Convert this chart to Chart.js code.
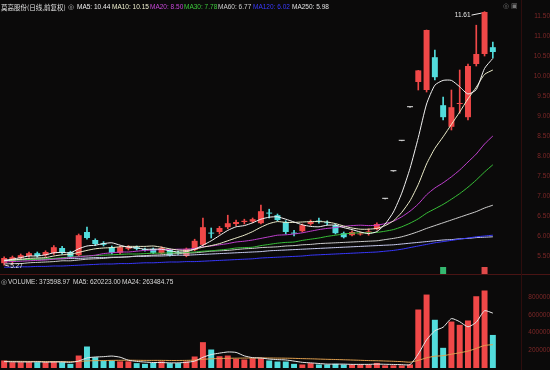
<!DOCTYPE html>
<html>
<head>
<meta charset="utf-8">
<script src="https://cdn.jsdelivr.net/npm/chart.js@4.4.0/dist/chart.umd.min.js"></script>
<style>
  body { margin: 0; background: #0b0a0a; width: 550px; height: 370px; overflow: hidden; position: relative; font-family: "Liberation Sans", Arial, sans-serif; }
  canvas { position: absolute; left: 0; }
  #price { top: 0; }
  #vol { top: 276px; }
  .lg { position: absolute; font-size: 6.5px; line-height: 8px; white-space: nowrap; color: #d8d8d8; }
  .cjk { font-family: "Noto Sans CJK SC", sans-serif; }
  .line { position: absolute; background: #4a1414; }
</style>
</head>
<body>
<canvas id="price" width="550" height="275"></canvas>
<canvas id="vol" width="550" height="94"></canvas>
<div class="line" style="left:0;top:274px;width:550px;height:1px"></div>
<div class="line" style="left:521px;top:0;width:1px;height:370px;background:#2e0d0d"></div>

<div class="lg cjk" style="left:1px;top:3px;color:#e0e0e0">莫高股份(日线,前复权)</div>
<div class="lg" style="left:68px;top:3px;color:#bbb">◎</div>
<div class="lg" style="left:77px;top:3px;color:#f0f0f0">MA5: 10.44</div>
<div class="lg" style="left:112px;top:3px;color:#f0f0d0">MA10: 10.15</div>
<div class="lg" style="left:150px;top:3px;color:#c848d8">MA20: 8.50</div>
<div class="lg" style="left:184px;top:3px;color:#3cc83c">MA30: 7.78</div>
<div class="lg" style="left:218px;top:3px;color:#d0d0d0">MA60: 6.77</div>
<div class="lg" style="left:253px;top:3px;color:#3a3aff">MA120: 6.02</div>
<div class="lg" style="left:292px;top:3px;color:#e0e0e0">MA250: 5.98</div>
<div class="lg" style="left:503px;top:2px;color:#777">◎ ▣</div>

<div class="lg" style="left:1px;top:278px;color:#bbb">◎</div>
<div class="lg" style="left:8px;top:278px">VOLUME: 373598.97</div>
<div class="lg" style="left:73px;top:278px">MA5: 620223.00</div>
<div class="lg" style="left:122px;top:278px">MA24: 263484.75</div>

<script>
// daily candles, oldest first
const days = Array.from({ length: 60 }, (_, i) => i)

const opens = [5.32, 5.36, 5.45, 5.50, 5.57, 5.52, 5.57, 5.70, 5.60, 5.52,
  6.10, 5.90, 5.82, 5.72, 5.58, 5.68, 5.72, 5.67, 5.68, 5.57,
  5.65, 5.59, 5.50, 5.65, 5.78, 6.08, 6.10, 6.22, 6.30, 6.35,
  6.36, 6.32, 6.58, 6.52, 6.35, 6.08, 6.12, 6.30, 6.38, 6.34,
  6.27, 6.07, 6.02, 6.04, 6.09, 6.17, 6.93, 7.62, 8.38, 9.22,
  9.85, 9.65, 10.47, 9.27, 8.73, 9.30, 8.97, 10.30, 10.55, 10.72]
const closes = [5.45, 5.47, 5.52, 5.57, 5.50, 5.60, 5.72, 5.58, 5.48, 6.02,
  5.95, 5.80, 5.78, 5.58, 5.72, 5.72, 5.68, 5.65, 5.58, 5.70,
  5.52, 5.57, 5.68, 5.88, 6.22, 6.06, 6.20, 6.32, 6.35, 6.38,
  6.42, 6.62, 6.56, 6.40, 6.10, 6.06, 6.27, 6.35, 6.36, 6.32,
  6.07, 5.97, 6.10, 6.06, 6.11, 6.30, 6.93, 7.62, 8.38, 9.22,
  10.14, 11.15, 9.97, 8.97, 9.22, 9.32, 10.25, 10.55, 11.60, 10.60]
const highs = [5.48, 5.50, 5.55, 5.60, 5.60, 5.63, 5.76, 5.74, 5.62, 6.05,
  6.22, 5.93, 5.86, 5.75, 5.75, 5.76, 5.75, 5.70, 5.70, 5.73,
  5.67, 5.62, 5.70, 5.92, 6.45, 6.20, 6.24, 6.52, 6.40, 6.42,
  6.45, 6.77, 6.67, 6.55, 6.38, 6.14, 6.30, 6.40, 6.45, 6.38,
  6.30, 6.10, 6.13, 6.10, 6.18, 6.33, 6.93, 7.62, 8.38, 9.22,
  10.14, 11.15, 10.65, 9.47, 9.65, 10.15, 10.30, 11.27, 11.61, 10.85]
const lows = [5.27, 5.30, 5.42, 5.47, 5.47, 5.49, 5.54, 5.55, 5.45, 5.50,
  5.92, 5.76, 5.75, 5.55, 5.55, 5.65, 5.65, 5.62, 5.56, 5.55,
  5.50, 5.54, 5.48, 5.63, 5.76, 5.95, 6.05, 6.18, 6.26, 6.30,
  6.33, 6.30, 6.45, 6.38, 6.05, 6.00, 6.10, 6.27, 6.32, 6.28,
  6.05, 5.95, 6.00, 6.02, 6.02, 6.15, 6.93, 7.62, 8.38, 9.22,
  9.65, 9.60, 9.90, 8.90, 8.65, 9.07, 8.90, 10.25, 10.50, 10.45]

// moving averages as shown on the chart
const ma5 = [5.38, 5.42, 5.46, 5.50, 5.50, 5.53, 5.58, 5.59, 5.58, 5.68,
  5.75, 5.77, 5.81, 5.83, 5.77, 5.72, 5.70, 5.67, 5.67, 5.67,
  5.63, 5.60, 5.61, 5.67, 5.77, 5.88, 6.01, 6.14, 6.23, 6.26,
  6.33, 6.42, 6.47, 6.48, 6.42, 6.35, 6.28, 6.24, 6.23, 6.27,
  6.27, 6.21, 6.16, 6.10, 6.06, 6.11, 6.30, 6.60, 7.07, 7.69,
  8.46, 9.30, 9.77, 9.89, 9.89, 9.73, 9.55, 9.66, 10.19, 10.44]
const ma10 = [5.38, 5.40, 5.42, 5.44, 5.45, 5.46, 5.50, 5.53, 5.54, 5.59,
  5.64, 5.68, 5.70, 5.71, 5.73, 5.74, 5.74, 5.74, 5.75, 5.72,
  5.68, 5.65, 5.64, 5.67, 5.72, 5.76, 5.81, 5.88, 5.95, 6.02,
  6.11, 6.22, 6.31, 6.36, 6.34, 6.34, 6.35, 6.36, 6.36, 6.35,
  6.31, 6.25, 6.20, 6.17, 6.17, 6.19, 6.26, 6.38, 6.59, 6.88,
  7.29, 7.80, 8.19, 8.48, 8.79, 9.10, 9.43, 9.72, 10.04, 10.15]
const ma20 = [5.35, 5.36, 5.37, 5.38, 5.39, 5.40, 5.42, 5.44, 5.46, 5.48,
  5.50, 5.52, 5.56, 5.58, 5.60, 5.60, 5.62, 5.64, 5.65, 5.66,
  5.66, 5.67, 5.67, 5.69, 5.73, 5.75, 5.78, 5.81, 5.85, 5.87,
  5.90, 5.94, 5.98, 6.02, 6.03, 6.05, 6.08, 6.12, 6.16, 6.19,
  6.21, 6.24, 6.26, 6.27, 6.26, 6.27, 6.31, 6.37, 6.48, 6.62,
  6.80, 7.03, 7.20, 7.33, 7.48, 7.65, 7.85, 8.05, 8.30, 8.50]
const ma30 = [5.38, 5.39, 5.40, 5.41, 5.42, 5.43, 5.44, 5.46, 5.47, 5.49,
  5.50, 5.51, 5.52, 5.53, 5.54, 5.55, 5.55, 5.56, 5.57, 5.57,
  5.58, 5.58, 5.59, 5.60, 5.62, 5.63, 5.65, 5.67, 5.70, 5.71,
  5.72, 5.76, 5.79, 5.82, 5.84, 5.85, 5.89, 5.92, 5.95, 5.99,
  6.02, 6.05, 6.07, 6.08, 6.08, 6.09, 6.12, 6.16, 6.23, 6.32,
  6.43, 6.57, 6.68, 6.79, 6.92, 7.06, 7.22, 7.40, 7.60, 7.78]
const ma60 = [5.30, 5.31, 5.31, 5.33, 5.34, 5.35, 5.36, 5.38, 5.38, 5.40,
  5.42, 5.43, 5.44, 5.46, 5.47, 5.48, 5.50, 5.51, 5.52, 5.53,
  5.55, 5.56, 5.57, 5.58, 5.60, 5.62, 5.63, 5.64, 5.66, 5.68,
  5.69, 5.71, 5.72, 5.73, 5.75, 5.76, 5.78, 5.79, 5.81, 5.82,
  5.83, 5.84, 5.85, 5.86, 5.87, 5.88, 5.91, 5.94, 5.98, 6.04,
  6.11, 6.19, 6.26, 6.33, 6.40, 6.47, 6.54, 6.61, 6.70, 6.77]
const ma120 = [5.22, 5.22, 5.23, 5.23, 5.24, 5.24, 5.25, 5.25, 5.26, 5.27,
  5.28, 5.29, 5.30, 5.30, 5.31, 5.31, 5.32, 5.33, 5.33, 5.34,
  5.35, 5.35, 5.36, 5.36, 5.37, 5.38, 5.39, 5.40, 5.41, 5.42,
  5.43, 5.45, 5.46, 5.47, 5.48, 5.49, 5.50, 5.52, 5.53, 5.54,
  5.55, 5.56, 5.57, 5.58, 5.59, 5.60, 5.62, 5.64, 5.67, 5.71,
  5.75, 5.79, 5.83, 5.86, 5.89, 5.92, 5.95, 5.98, 6.00, 6.02]
const ma250 = [5.40, 5.40, 5.41, 5.41, 5.42, 5.42, 5.43, 5.43, 5.44, 5.44,
  5.45, 5.46, 5.46, 5.47, 5.47, 5.48, 5.49, 5.49, 5.50, 5.50,
  5.51, 5.52, 5.52, 5.53, 5.54, 5.55, 5.56, 5.57, 5.58, 5.59,
  5.60, 5.61, 5.63, 5.64, 5.65, 5.66, 5.67, 5.68, 5.69, 5.70,
  5.71, 5.72, 5.73, 5.74, 5.75, 5.76, 5.77, 5.78, 5.80, 5.82,
  5.84, 5.86, 5.88, 5.90, 5.91, 5.93, 5.94, 5.96, 5.97, 5.98]

const volumes = [85000, 66000, 66000, 66000, 66000, 66000, 75000, 66000, 47000, 141000,
  243000, 122000, 85000, 85000, 75000, 75000, 55000, 47000, 58000, 75000,
  55000, 55000, 75000, 130000, 292000, 209000, 133000, 141000, 104000, 96000,
  111000, 111000, 85000, 73000, 73000, 47000, 40000, 55000, 40000, 40000,
  47000, 40000, 40000, 40000, 40000, 58000, 30000, 30000, 30000, 40000,
  661000, 830000, 545000, 228000, 525000, 488000, 537000, 811000, 876000, 373598.97]
const volMa5 = [72000, 70000, 69000, 68000, 70000, 66000, 68000, 68000, 64000, 79000,
  114000, 124000, 128000, 135000, 122000, 88000, 75000, 67000, 62000, 62000,
  58000, 58000, 64000, 78000, 121000, 152000, 168000, 181000, 176000, 137000,
  117000, 113000, 101000, 95000, 91000, 78000, 64000, 58000, 51000, 44000,
  44000, 44000, 41000, 41000, 41000, 44000, 42000, 40000, 38000, 38000,
  158000, 318000, 421000, 461000, 558000, 523000, 465000, 518000, 647000, 620223]
const volMa24 = [76000, 75000, 75000, 74000, 74000, 73000, 73000, 72000, 71000, 74000,
  80000, 83000, 84000, 86000, 87000, 88000, 87000, 86000, 86000, 86000,
  85000, 85000, 86000, 89000, 98000, 104000, 107000, 110000, 111000, 112000,
  113000, 114000, 113000, 112000, 111000, 109000, 106000, 104000, 101000, 98000,
  96000, 93000, 90000, 87000, 84000, 82000, 79000, 76000, 72000, 66000,
  86000, 115000, 133000, 139000, 156000, 172000, 191000, 221000, 255000, 263485]

const priceTicks = [5.5, 6.0, 6.5, 7.0, 7.5, 8.0, 8.5, 9.0, 9.5, 10.0, 10.5, 11.0, 11.5]
const volTicks = [200000, 400000, 600000, 800000]

// small event flags under the candles
const eventDays = [53, 58]
const eventColors = ['#35b870', '#e04a4a']

const RED = '#f04848'
const CYAN = '#52dcdc'
const FLAT = '#e6e6e6'

const candleColor = days.map(i => closes[i] > opens[i] ? RED : closes[i] < opens[i] ? CYAN : FLAT)
const volColor = days.map(i => closes[i] >= opens[i] ? RED : CYAN)

const axisFont = { size: 6.5, family: 'Liberation Sans' }

function maLine(data, color) {
  return { type: 'line', data, borderColor: color, borderWidth: 1, pointRadius: 0, tension: 0.2, fill: false }
}

// right-hand axis: fixed width, no extra room for half labels
function rightAxis(min, max, ticks, fmt) {
  return {
    position: 'right',
    min, max,
    grid: { display: false },
    border: { display: false },
    afterFit: s => { s.width = 29; s.paddingTop = 0; s.paddingBottom = 0 },
    afterBuildTicks: s => { s.ticks = ticks.map(v => ({ value: v })) },
    ticks: { color: '#7e2828', font: axisFont, padding: 1, crossAlign: 'far', callback: fmt }
  }
}

const dayAxis = { type: 'linear', min: -0.5, max: 62.4, offset: false, display: false }

// labels for the highest / lowest prices and the flags
const markPlugin = {
  id: 'marks',
  afterDatasetsDraw(chart) {
    const { ctx, scales: { x, y } } = chart
    ctx.save()
    ctx.font = '6.5px "Liberation Sans"'
    ctx.fillStyle = '#e8e8e8'
    ctx.strokeStyle = '#e8e8e8'
    ctx.lineWidth = 1

    const hiIdx = highs.indexOf(Math.max(...highs))
    const hx = x.getPixelForValue(hiIdx), hy = y.getPixelForValue(highs[hiIdx])
    ctx.beginPath()
    ctx.moveTo(hx - 13, hy + 3.5)
    ctx.lineTo(hx - 3, hy + 1.5)
    ctx.stroke()
    ctx.textAlign = 'right'
    ctx.textBaseline = 'middle'
    ctx.fillText(highs[hiIdx].toFixed(2), hx - 14, hy + 4)

    const loIdx = lows.indexOf(Math.min(...lows))
    const lx = x.getPixelForValue(loIdx), ly = y.getPixelForValue(lows[loIdx])
    ctx.beginPath()
    ctx.moveTo(lx + 1, ly)
    ctx.lineTo(lx + 5, ly + 1)
    ctx.stroke()
    ctx.textAlign = 'left'
    ctx.fillText(lows[loIdx].toFixed(2), lx + 6, ly + 1)

    eventDays.forEach((d, k) => {
      const ex = x.getPixelForValue(d)
      ctx.fillStyle = eventColors[k]
      ctx.fillRect(ex - 3, 267, 6, 7)
    })
    ctx.restore()
  }
}

new Chart(document.getElementById('price'), {
  type: 'bar',
  data: {
    labels: days,
    datasets: [
      maLine(ma5, '#f2f2f2'),
      maLine(ma10, '#eeeecc'),
      maLine(ma20, '#c040d0'),
      maLine(ma30, '#38c038'),
      maLine(ma60, '#cfcfcf'),
      maLine(ma120, '#3838ff'),
      maLine(ma250, '#c8ccf0'),
      {
        data: days.map(i => [opens[i], closes[i]]),
        backgroundColor: candleColor,
        barPercentage: 0.72,
        categoryPercentage: 1,
        minBarLength: 1,
        grouped: false
      },
      {
        data: days.map(i => [lows[i], highs[i]]),
        backgroundColor: candleColor,
        barThickness: 1,
        grouped: false
      }
    ]
  },
  options: {
    responsive: false,
    animation: false,
    devicePixelRatio: 1,
    layout: { padding: 0 },
    plugins: { legend: { display: false }, tooltip: { enabled: false } },
    scales: {
      x: dayAxis,
      y: rightAxis(5.025, 11.9, priceTicks, v => v.toFixed(2))
    }
  },
  plugins: [markPlugin]
})

new Chart(document.getElementById('vol'), {
  type: 'bar',
  data: {
    labels: days,
    datasets: [
      maLine(volMa5, '#e8e8e8'),
      maLine(volMa24, '#e0a050'),
      {
        data: volumes,
        backgroundColor: volColor,
        barPercentage: 0.72,
        categoryPercentage: 1,
        grouped: false
      }
    ]
  },
  options: {
    responsive: false,
    animation: false,
    devicePixelRatio: 1,
    layout: { padding: { top: 9, bottom: 2 } },
    plugins: { legend: { display: false }, tooltip: { enabled: false } },
    scales: {
      x: dayAxis,
      y: rightAxis(0, 938000, volTicks, v => String(v))
    }
  }
})
</script>
</body>
</html>
